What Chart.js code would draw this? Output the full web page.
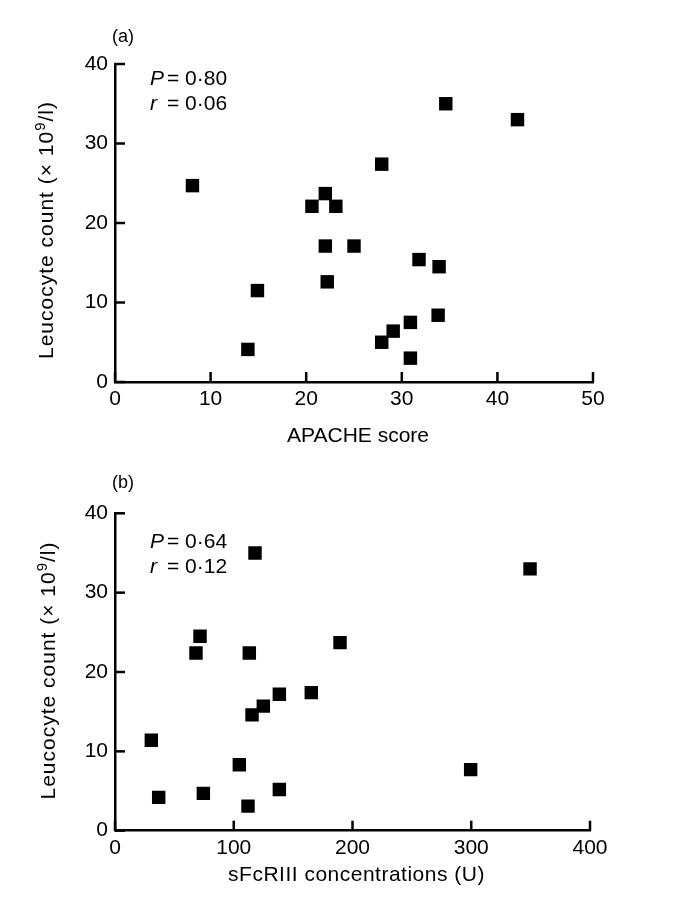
<!DOCTYPE html>
<html><head><meta charset="utf-8">
<script src="https://cdn.jsdelivr.net/npm/chart.js@4"></script>
<style>
html,body{margin:0;padding:0;background:#fff;}
#wrap{position:relative;width:677px;height:911px;background:#fff;}
canvas{position:absolute;left:0;}
#ca{top:0}
#cb{top:450px}
</style></head><body>
<div id="wrap">
<canvas id="ca" width="677" height="450"></canvas>
<canvas id="cb" width="677" height="461"></canvas>
</div>
<script>
// ---- data ----
const apacheScore = [34.6, 42.1, 27.9, 8.1, 22.0, 20.6, 23.1, 22.0, 25.0, 31.8, 33.9, 22.2, 14.9, 33.8, 30.9, 29.1, 27.9, 13.9, 30.9];
const leucocyteA  = [35.0, 33.0, 27.4, 24.7, 23.7, 22.1, 22.1, 17.1, 17.1, 15.4, 14.5, 12.6, 11.5, 8.4, 7.5, 6.4, 5.0, 4.1, 3.0];
const sFcRIII     = [117.9, 349.5, 71.6, 68.2, 113.1, 189.5, 138.4, 165.3, 124.9, 115.4, 30.6, 104.7, 299.5, 138.4, 36.8, 74.4, 112.0];
const leucocyteB  = [35.0, 33.0, 24.5, 22.4, 22.4, 23.7, 17.2, 17.4, 15.7, 14.6, 11.4, 8.3, 7.7, 5.2, 4.2, 4.7, 3.1];
const yTicks      = [0, 10, 20, 30, 40];
const xTicksA     = [0, 10, 20, 30, 40, 50];
const xTicksB     = [0, 100, 200, 300, 400];
const panelLabels = ['(a)', '(b)'];
const statsA      = ['0·80', '0·06'];
const statsB      = ['0·64', '0·12'];
const xTitleA     = 'APACHE score';
const xTitleB     = 'sFcRIII concentrations (U)';
const yTitleParts = ['Leucocyte count (× 10', '9', '/l)'];

const FONT = '"Liberation Sans", Arial, Helvetica, sans-serif';

const decor = {
  id: 'decor',
  afterDraw(chart, args, o) {
    const {ctx, chartArea: a, scales: {x, y}} = chart;
    ctx.save();
    // inward ticks
    ctx.strokeStyle = '#000'; ctx.lineWidth = 2.5; ctx.lineCap = 'butt';
    x.ticks.forEach(t => { const px = x.getPixelForValue(t.value); ctx.beginPath(); ctx.moveTo(px, a.bottom); ctx.lineTo(px, a.bottom - 10); ctx.stroke(); });
    y.ticks.forEach(t => { const py = y.getPixelForValue(t.value); ctx.beginPath(); ctx.moveTo(a.left, py); ctx.lineTo(a.left + 10, py); ctx.stroke(); });
    ctx.fillStyle = '#000';
    ctx.textBaseline = 'alphabetic';
    // panel label
    ctx.font = '18px ' + FONT; ctx.textAlign = 'left';
    ctx.fillText(o.panel, a.left - 3, a.top - o.panelDy);
    // stats
    ctx.font = 'italic 21px ' + FONT;
    ctx.fillText('P', a.left + 35, a.top + o.statDy);
    ctx.fillText('r', a.left + 35, a.top + o.statDy + 25);
    ctx.font = '21px ' + FONT;
    ctx.fillText('= ' + o.stats[0], a.left + 52, a.top + o.statDy);
    ctx.fillText('= ' + o.stats[1], a.left + 52, a.top + o.statDy + 25);
    // x title
    ctx.textAlign = 'center';
    ctx.letterSpacing = o.xSpacing;
    ctx.fillText(o.xTitle, (a.left + a.right) / 2 + 4, a.bottom + o.xTitleDy);
    // y title with superscript
    ctx.translate(a.left - o.yTitleDx, (a.top + a.bottom) / 2 + o.yTitleDy);
    ctx.rotate(-Math.PI / 2);
    ctx.textAlign = 'left';
    ctx.letterSpacing = '1px';
    ctx.font = '21px ' + FONT; const w1 = ctx.measureText(yTitleParts[0]).width; const w3 = ctx.measureText(yTitleParts[2]).width;
    ctx.font = '15px ' + FONT; const w2 = ctx.measureText(yTitleParts[1]).width;
    let sx = -(w1 + w2 + w3) / 2;
    ctx.font = '21px ' + FONT; ctx.fillText(yTitleParts[0], sx, 0); sx += w1;
    ctx.font = '15px ' + FONT; ctx.fillText(yTitleParts[1], sx, -8); sx += w2;
    ctx.font = '21px ' + FONT; ctx.fillText(yTitleParts[2], sx, 0);
    ctx.restore();
  }
};

function makeChart(id, xs, ys, xTicks, xMax, h, top, bottom, right, deco) {
  const pts = xs.map((v, i) => ({x: v, y: ys[i]}));
  return new Chart(document.getElementById(id), {
    type: 'scatter',
    data: { datasets: [{ data: pts, pointStyle: 'rect', pointRadius: 9.5, pointHoverRadius: 9.5,
      backgroundColor: '#000', borderColor: '#000', borderWidth: 0 }] },
    options: {
      responsive: false, animation: false, events: [],
      layout: { padding: { top: top, right: right, left: 0, bottom: 0 } },
      plugins: { legend: { display: false }, tooltip: { enabled: false }, decor: deco },
      scales: {
        x: { type: 'linear', min: 0, max: xMax,
          afterBuildTicks: s => { s.ticks = xTicks.map(v => ({value: v})); },
          afterFit: s => { s.height = h - bottom; },
          grid: { display: true, drawOnChartArea: false, drawTicks: false },
          border: { display: true, color: '#000', width: 2.5 },
          ticks: { color: '#000', font: { family: FONT, size: 21 }, padding: 5, maxRotation: 0 } },
        y: { type: 'linear', min: 0, max: 40,
          afterBuildTicks: s => { s.ticks = yTicks.map(v => ({value: v})); },
          afterFit: s => { s.width = 115; },
          grid: { display: true, drawOnChartArea: false, drawTicks: false },
          border: { display: true, color: '#000', width: 2.5 },
          ticks: { color: '#000', font: { family: FONT, size: 21 }, padding: 7 } }
      }
    },
    plugins: [decor]
  });
}

makeChart('ca', apacheScore, leucocyteA, xTicksA, 50, 450, 64, 382, 84,
  { panel: panelLabels[0], panelDy: 22, stats: statsA, statDy: 21, xTitle: xTitleA, xSpacing: '0px', xTitleDy: 59.5, yTitleDx: 62, yTitleDy: 7 });
makeChart('cb', sFcRIII, leucocyteB, xTicksB, 400, 461, 63.3, 380.7, 87,
  { panel: panelLabels[1], panelDy: 25, stats: statsB, statDy: 35, xTitle: xTitleB, xSpacing: '0.5px', xTitleDy: 50.5, yTitleDx: 60, yTitleDy: -1.5 });
</script>
</body></html>
